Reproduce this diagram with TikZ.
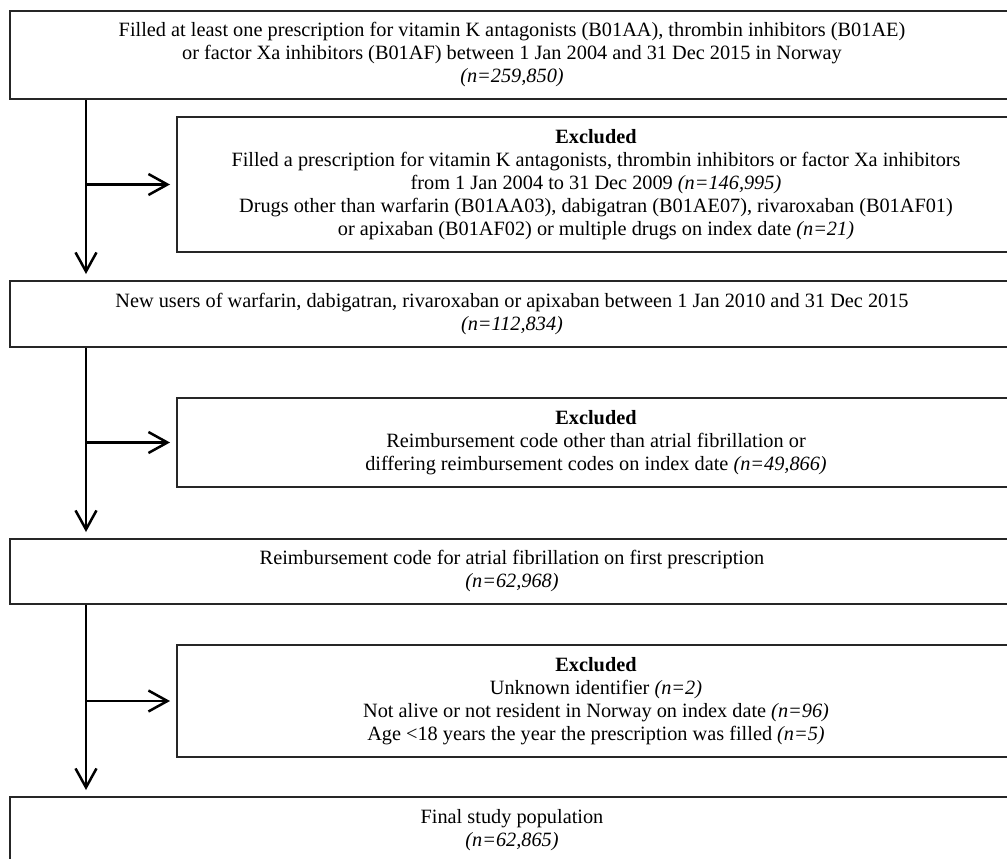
\documentclass[tikz,border=0pt]{standalone}
\usepackage{fontspec}
\setmainfont{Liberation Serif}
\usetikzlibrary{arrows.meta}
\begin{document}
\begin{tikzpicture}[x=1pt,y=-1pt,
  font=\fontsize{20.3}{23}\selectfont,
  mainbox/.style={draw=black!85, line width=2pt, align=center, inner sep=0pt, minimum width=1004pt},
  exclbox/.style={draw=black!85, line width=2pt, align=center, inner sep=0pt, minimum width=838pt},
  flow/.style={line width=2.5pt, -{Straight Barb[length=19pt,width=21pt,line width=2.5pt]}, shorten >=6pt}]
\clip (0,0) rectangle (1007,859);
\fill[white] (0,0) rectangle (1007,859);
\coordinate (sp) at (86,0);
\node[mainbox, minimum height=88pt] (b1) at (512,55)
  {Filled at least one prescription for vitamin K antagonists (B01AA), thrombin inhibitors (B01AE)\\
   or factor Xa inhibitors (B01AF) between 1 Jan 2004 and 31 Dec 2015 in Norway\\
   \textit{(n=259,850)}};
\node[exclbox, minimum height=135pt] (e1) at (596,184.5)
  {\textbf{Excluded}\\
   Filled a prescription for vitamin K antagonists, thrombin inhibitors or factor Xa inhibitors\\
   from 1 Jan 2004 to 31 Dec 2009 \textit{(n=146,995)}\\
   Drugs other than warfarin (B01AA03), dabigatran (B01AE07), rivaroxaban (B01AF01)\\
   or apixaban (B01AF02) or multiple drugs on index date \textit{(n=21)}};
\node[mainbox, minimum height=66pt] (b2) at (512,314)
  {New users of warfarin, dabigatran, rivaroxaban or apixaban between 1 Jan 2010 and 31 Dec 2015\\
   \textit{(n=112,834)}};
\node[exclbox, minimum height=89pt] (e2) at (596,442.5)
  {\textbf{Excluded}\\
   Reimbursement code other than atrial fibrillation or\\
   differing reimbursement codes on index date \textit{(n=49,866)}};
\node[mainbox, minimum height=65pt] (b3) at (512,571.5)
  {Reimbursement code for atrial fibrillation on first prescription\\
   \textit{(n=62,968)}};
\node[exclbox, minimum height=112pt] (e3) at (596,701)
  {\textbf{Excluded}\\
   Unknown identifier \textit{(n=2)}\\
   Not alive or not resident in Norway on index date \textit{(n=96)}\\
   Age <18 years the year the prescription was filled \textit{(n=5)}};
\node[mainbox, minimum height=66pt] (b4) at (512,830)
  {Final study population\\
   \textit{(n=62,865)}};
\draw[flow] (b1.south -| sp) -- (b2.north -| sp);
\draw[flow] (b2.south -| sp) -- (b3.north -| sp);
\draw[flow] (b3.south -| sp) -- (b4.north -| sp);
\draw[flow] (e1.west -| sp) -- (e1.west);
\draw[flow] (e2.west -| sp) -- (e2.west);
\draw[flow] (e3.west -| sp) -- (e3.west);
\end{tikzpicture}
\end{document}
